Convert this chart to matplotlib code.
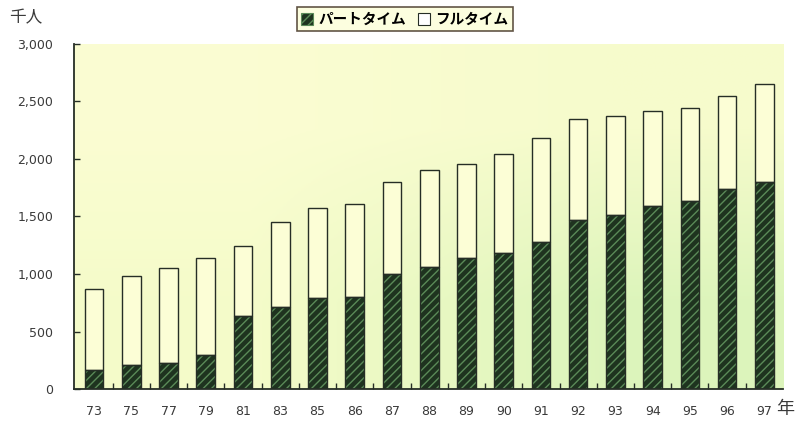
import numpy as np
import matplotlib
matplotlib.use('Agg')
import matplotlib.pyplot as plt
from matplotlib.patches import Patch
from matplotlib.ticker import FuncFormatter, FixedLocator

years = ['73', '75', '77', '79', '81', '83', '85', '86', '87', '88',
         '89', '90', '91', '92', '93', '94', '95', '96', '97']
part_time = [170, 210, 230, 300, 640, 710, 795, 800, 1005, 1065,
             1140, 1180, 1275, 1470, 1510, 1590, 1635, 1735, 1800]
total = [870, 980, 1050, 1140, 1240, 1450, 1570, 1610, 1800, 1900,
         1955, 2040, 2180, 2345, 2370, 2420, 2440, 2545, 2650]
full_time = [t - p for t, p in zip(total, part_time)]

y_ticks = [0, 500, 1000, 1500, 2000, 2500, 3000]

jp_font = ['Noto Sans CJK JP', 'DejaVu Sans']
ink = '#262e26'
label_color = '#3a3a3a'
full_face = '#fcfed6'
part_face = '#1e331f'
hatch_color = '#5a8a58'

fig = plt.figure(figsize=(7.97, 4.23), dpi=100)
fig.patch.set_facecolor('white')
ax = fig.add_axes([0.0928, 0.0797, 0.8896, 0.817])

# pale yellow background, drifting to light green towards the lower right
grad = np.array([[[0.984, 0.992, 0.824], [0.965, 0.985, 0.80]],
                 [[0.960, 0.987, 0.790], [0.865, 0.960, 0.735]]])
ax.imshow(grad, extent=(0, 1, 0, 1), origin='upper', transform=ax.transAxes,
          aspect='auto', interpolation='bilinear', zorder=0)

x = np.arange(len(years))
width = 0.5

# part-time: dark hatched bars
plt.rcParams['hatch.linewidth'] = 1.0
ax.bar(x, part_time, width, color=part_face, edgecolor=hatch_color,
       hatch='////', linewidth=0, zorder=2)
ax.bar(x, part_time, width, fill=False, edgecolor=ink, linewidth=1.0, zorder=3)
# full-time stacked on top
ax.bar(x, full_time, width, bottom=part_time, color=full_face,
       edgecolor=ink, linewidth=1.0, zorder=2)

ax.set_xlim(-0.54, 18.5)
ax.set_ylim(0, 3000)

ax.set_yticks(y_ticks)
ax.yaxis.set_major_formatter(FuncFormatter(lambda v, pos: '{:,}'.format(int(v))))
ax.tick_params(axis='y', direction='in', length=4, width=1, color=ink,
               pad=15, labelsize=9, labelcolor=label_color)

ax.set_xticks(x)
ax.set_xticklabels(years)
ax.xaxis.set_minor_locator(FixedLocator(x[:-1] + 0.5))
ax.tick_params(axis='x', which='major', length=0, pad=11, labelsize=9,
               labelcolor=label_color)
ax.tick_params(axis='x', which='minor', direction='in', length=4, width=1,
               color=ink)

for side in ['top', 'right']:
    ax.spines[side].set_visible(False)
for side in ['left', 'bottom']:
    ax.spines[side].set_color(ink)
    ax.spines[side].set_linewidth(1.3)

# unit labels
fig.text(0.012, 0.958, '千人', family=jp_font, fontsize=12, color=label_color,
         va='center', ha='left')
fig.text(0.997, 0.032, '年', family=jp_font, fontsize=13, color=label_color,
         va='center', ha='right')

handles = [Patch(facecolor=part_face, edgecolor=hatch_color, hatch='////', linewidth=0.8),
           Patch(facecolor='white', edgecolor=ink, linewidth=0.8)]
leg = fig.legend(handles, ['パートタイム', 'フルタイム'], ncol=2,
                 loc='center', bbox_to_anchor=(0.508, 0.955),
                 prop={'family': jp_font, 'size': 10.5, 'weight': 'bold'},
                 frameon=True, fancybox=False, handlelength=0.8,
                 handleheight=0.8, handletextpad=0.4, columnspacing=0.8,
                 borderpad=0.3)
leg.get_frame().set_facecolor('#fcfed8')
leg.get_frame().set_edgecolor('#3a2a1a')
leg.get_frame().set_linewidth(1.2)

fig.savefig('out.png', dpi=100)
plt.close(fig)
